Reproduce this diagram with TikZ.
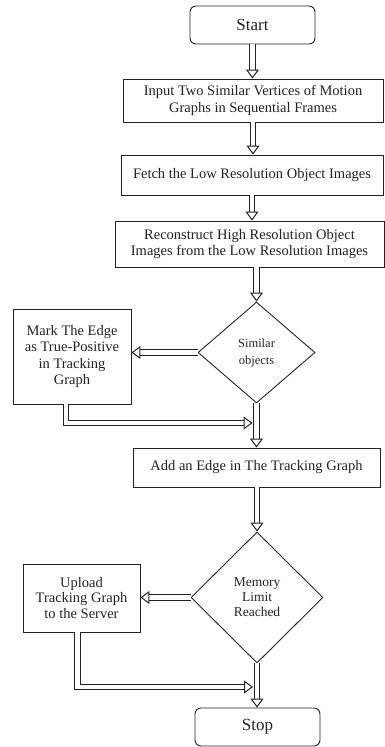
\documentclass[tikz,border=0pt]{standalone}
\usepackage{fontspec}
\setmainfont{Liberation Serif}
\usetikzlibrary{arrows.meta,positioning,shapes.geometric}
\definecolor{ink}{HTML}{222222}

\begin{document}
\begin{tikzpicture}[x=1pt,y=-1pt,
  box/.style={draw=ink,text=ink,line width=0.9pt,align=center,inner sep=0pt,font=\fontsize{14.5}{16.5}\selectfont},
  term/.style={box,rounded corners=6pt,minimum width=125pt,minimum height=38pt,font=\fontsize{17}{20}\selectfont},
  decide/.style={box,diamond,aspect=1},
  flow/.style={draw=ink,line width=1pt,double,double distance=4.5pt,-{Triangle[open,length=9pt,width=13pt]}}]
\useasboundingbox (0,0) rectangle (384,747);
% main column
\node[term] (start) at (252.5,25) {Start};
\node[box,minimum width=260pt,minimum height=43pt] (input) at (253,100.5) {Input Two Similar Vertices of Motion\\Graphs in Sequential Frames};
\node[box,minimum width=262pt,minimum height=40pt] (fetch) at (252,175) {Fetch the Low Resolution Object Images};
\node[box,minimum width=269pt,minimum height=46pt] (recon) at (249.5,244) {Reconstruct High Resolution Object\\Images from the Low Resolution Images};
\node[decide,minimum width=117pt,minimum height=101pt,font=\fontsize{12.5}{17}\selectfont] (sim) at (256.5,352.5) {Similar\\objects};
\node[box,minimum width=118pt,minimum height=95pt] (mark) at (72,356.5) {Mark The Edge\\as True-Positive\\in Tracking\\Graph};
\node[box,minimum width=247pt,minimum height=39pt] (add) at (256.5,467.5) {Add an Edge in The Tracking Graph};
\node[decide,minimum width=132pt,minimum height=131pt,font=\fontsize{13.5}{15}\selectfont] (mem) at (257,597.5) {Memory\\Limit\\Reached};
\node[box,minimum width=117pt,minimum height=68pt,font=\fontsize{14.5}{15.5}\selectfont] (upload) at (81.5,598) {Upload\\Tracking Graph\\to the Server};
\node[term] (stop) at (257.5,727) {Stop};
\coordinate (join1) at (252.5,423);
\coordinate (join2) at (253,687);

% hollow arrows
\draw[flow] (start.south) -- (start.south |- input.north);
\draw[flow] (input.south) -- (input.south |- fetch.north);
\draw[flow] (fetch.south) -- (fetch.south |- recon.north);
\draw[flow] (sim.north |- recon.south) -- (sim.north);
\draw[flow] (sim.west) -- (sim.west -| mark.east);
\draw[flow] (sim.south) -- (sim.south |- add.north);
\draw[flow] ([xshift=-6pt]mark.south) |- (join1);
\draw[flow] (mem.north |- add.south) -- (mem.north);
\draw[flow] (mem.west) -- (mem.west -| upload.east);
\draw[flow] (mem.south) -- (mem.south |- stop.north);
\draw[flow] ([xshift=-4pt]upload.south) |- (join2);
\end{tikzpicture}
\end{document}
